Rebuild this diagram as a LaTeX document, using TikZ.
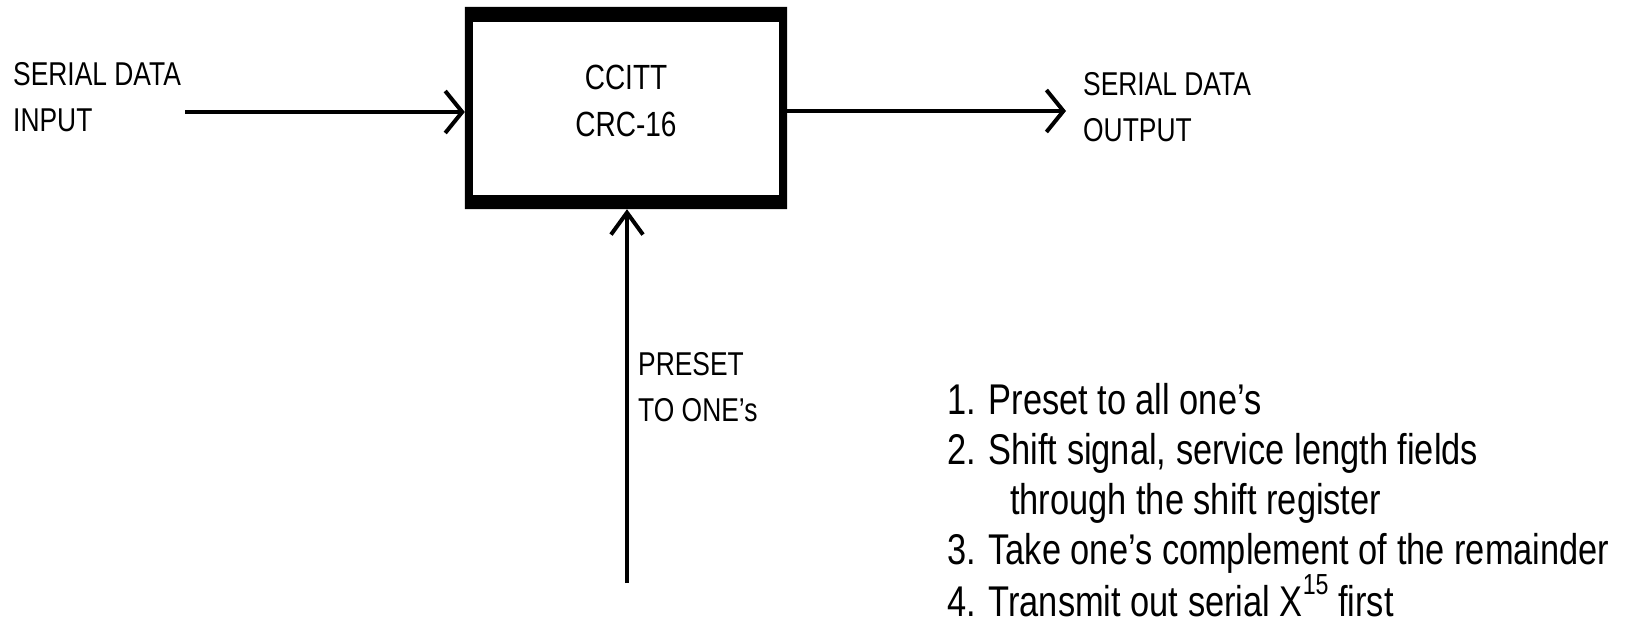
\documentclass[tikz,border=0pt]{standalone}
\usepackage{fontspec}
\setmainfont{Liberation Sans}[FakeStretch=0.8]
\usetikzlibrary{arrows.meta}
\newcommand{\supnum}[1]{{\fontsize{29}{29}\selectfont\raisebox{22pt}{#1}}}
\begin{document}
\begin{tikzpicture}[x=1pt,y=-1pt,
  lbl/.style={anchor=north west,inner sep=0pt,align=left,font=\fontsize{33}{46}\selectfont},
  listtext/.style={anchor=north west,inner sep=0pt,align=left,font=\fontsize{43}{50}\selectfont},
  conn/.style={line width=4pt,-{Straight Barb[length=17pt,width=42pt]}},
  connv/.style={line width=4pt,-{Straight Barb[length=22pt,width=32pt]}}]
\useasboundingbox (0,0) rectangle (1626,618);
% block
\node[draw=none,minimum width=322pt,minimum height=202pt,inner sep=0pt] (box) at (626,108) {};
\fill[even odd rule] (box.north west) rectangle (box.south east)
  ([xshift=8pt,yshift=-15pt]box.north west) rectangle ([xshift=-8pt,yshift=14pt]box.south east);
\node[align=center,inner sep=0pt,font=\fontsize{35}{47}\selectfont] (boxlabel) at ([yshift=7pt]box.center) {CCITT\\CRC-16};
% labels
\node[lbl] (inlbl) at (13,62) {SERIAL DATA\\INPUT};
\node[lbl] (outlbl) at (1083,72) {SERIAL DATA\\OUTPUT};
\node[lbl] (prelbl) at (638,352) {PRESET\\TO ONE’s};
% connectors
\coordinate (inS) at (185,112);
\coordinate (outE) at (1066,111);
\coordinate (preS) at (627,583);
\draw[conn] (inS) -- (inS -| box.west);
\draw[conn] (outE -| box.east) -- (outE);
\draw[connv] (preS) -- (preS |- box.south);
% notes
\node[listtext] (notes) at (947,383) {1. Preset to all one’s\\
2. Shift signal, service length fields\\
\hspace*{63pt}through the shift register\\
3. Take one’s complement of the remainder\\
4. Transmit out serial X\supnum{15} first};
\end{tikzpicture}
\end{document}
